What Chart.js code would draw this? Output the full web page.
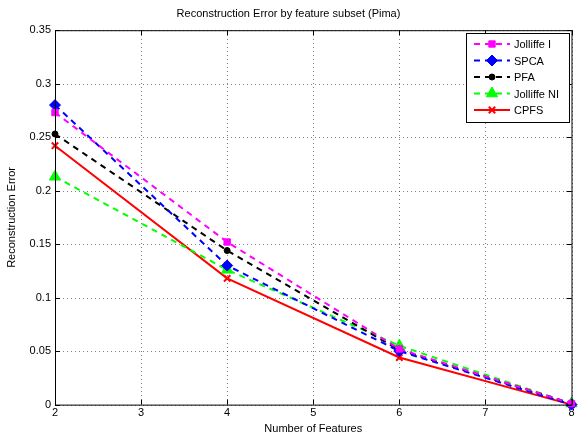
<!DOCTYPE html>
<html>
<head>
<meta charset="utf-8">
<script src="https://cdn.jsdelivr.net/npm/chart.js@4.4.1/dist/chart.umd.min.js"></script>
<style>
  html, body { margin: 0; padding: 0; background: #fff; }
  #wrap { width: 579px; height: 436px; }
</style>
</head>
<body>
<div id="wrap"><canvas id="c" width="579" height="436"></canvas></div>
<script>
// ── Datos ──────────────────────────────────────────────────────────────────
const features    = [2, 4, 6, 8];
const jolliffeI   = [0.273, 0.152, 0.052, 0.001];
const spca        = [0.280, 0.130, 0.050, 0.000];
const pfa         = [0.253, 0.144, 0.051, 0.001];
const jolliffeNI  = [0.213, 0.126, 0.055, 0.001];
const cpfs        = [0.242, 0.118, 0.044, 0.000];
const yTicks      = [0, 0.05, 0.1, 0.15, 0.2, 0.25, 0.3, 0.35];
const xTicks      = [2, 3, 4, 5, 6, 7, 8];

const FONT = 'Liberation Sans, Arial, Helvetica, sans-serif';

function pts(vals) { return features.map((x, i) => ({ x, y: vals[i] })); }

function series(label, vals, color, style, radius, dashed) {
  return {
    label, data: pts(vals),
    borderColor: color, backgroundColor: color,
    pointBackgroundColor: color, pointBorderColor: color,
    borderWidth: 2, borderDash: dashed ? [6, 5] : [],
    pointStyle: style, pointRadius: radius, pointBorderWidth: style === 'crossRot' ? 2 : 1,
    tension: 0, fill: false, clip: false,
  };
}

const datasets = [
  series('Jolliffe I',  jolliffeI,  '#ff00ff', 'rect',     4.5, true),
  series('SPCA',        spca,       '#0000ff', 'rectRot',  5.5, true),
  series('PFA',         pfa,        '#000000', 'circle',   3,   true),
  series('Jolliffe NI', jolliffeNI, '#00ff00', 'triangle', 6.5, true),
  series('CPFS',        cpfs,       '#ff0000', 'crossRot', 4.5, false),
];

// ── Rejilla punteada (debajo de las series) ─────────────────────────────────
// se dibuja como puntos sueltos: más fiable que setLineDash a 1px
const dottedGrid = {
  id: 'dottedGrid',
  beforeDatasetsDraw(chart) {
    const { ctx, chartArea: a, scales } = chart;
    ctx.save();
    ctx.fillStyle = 'rgba(0,0,0,0.5)';
    xTicks.forEach(v => {
      const px = Math.round(scales.x.getPixelForValue(v));
      for (let y = Math.ceil(a.top); y < a.bottom; y += 4) ctx.fillRect(px, y, 1, 1);
    });
    yTicks.forEach(v => {
      const py = Math.round(scales.y.getPixelForValue(v));
      for (let x = Math.ceil(a.left); x < a.right; x += 4) ctx.fillRect(x, py, 1, 1);
    });
    ctx.restore();
  },
};

// ── Caja, ticks internos y leyenda estilo MATLAB ────────────────────────────
const matlabFrame = {
  id: 'matlabFrame',
  afterDraw(chart) {
    const { ctx, chartArea: a, scales } = chart;
    ctx.save();
    ctx.strokeStyle = '#000'; ctx.lineWidth = 1; ctx.setLineDash([]);
    ctx.strokeRect(a.left + 0.5, a.top + 0.5, a.right - a.left, a.bottom - a.top);
    ctx.beginPath();
    xTicks.forEach(v => {
      const px = Math.round(scales.x.getPixelForValue(v)) + 0.5;
      ctx.moveTo(px, a.bottom); ctx.lineTo(px, a.bottom - 5);
      ctx.moveTo(px, a.top);    ctx.lineTo(px, a.top + 5);
    });
    yTicks.forEach(v => {
      const py = Math.round(scales.y.getPixelForValue(v)) + 0.5;
      ctx.moveTo(a.left, py);  ctx.lineTo(a.left + 5, py);
      ctx.moveTo(a.right, py); ctx.lineTo(a.right - 5, py);
    });
    ctx.stroke();

    // leyenda
    const lx = 466, ly = 33, lw = 103, lh = 89, step = 16.5;
    ctx.fillStyle = '#fff';
    ctx.fillRect(lx, ly, lw, lh);
    ctx.strokeRect(lx + 0.5, ly + 0.5, lw, lh);
    ctx.font = '11px ' + FONT;
    ctx.textBaseline = 'middle';
    chart.data.datasets.forEach((ds, i) => {
      const y = ly + 11 + i * step;
      ctx.strokeStyle = ds.borderColor; ctx.lineWidth = 2;
      ctx.setLineDash(ds.borderDash);
      ctx.beginPath(); ctx.moveTo(lx + 8, y); ctx.lineTo(lx + 44, y); ctx.stroke();
      ctx.setLineDash([]);
      ctx.fillStyle = ds.borderColor;
      ctx.lineWidth = ds.pointBorderWidth;
      Chart.helpers.drawPoint(ctx, { pointStyle: ds.pointStyle, radius: ds.pointRadius, rotation: 0, borderWidth: ds.pointBorderWidth }, lx + 26, y);
      ctx.fillStyle = '#000';
      ctx.fillText(ds.label, lx + 48, y + 1);
    });
    ctx.restore();
  },
};

new Chart(document.getElementById('c'), {
  type: 'line',
  data: { datasets },
  plugins: [dottedGrid, matlabFrame],
  options: {
    responsive: false, animation: false,
    layout: { padding: { top: 0, right: 2, left: 0, bottom: 0 } },
    plugins: {
      legend: { display: false },
      tooltip: { enabled: false },
      title: {
        display: true, text: 'Reconstruction Error by feature subset (Pima)',
        color: '#000', font: { family: FONT, size: 11, weight: 'normal' },
        padding: { top: 7, bottom: 10 },
      },
    },
    scales: {
      x: {
        type: 'linear', min: 2, max: 8,
        afterBuildTicks: s => { s.ticks = xTicks.map(v => ({ value: v })); },
        ticks: { color: '#000', font: { family: FONT, size: 11 }, padding: 2, maxRotation: 0 },
        grid: { display: false, drawTicks: false },
        border: { display: false },
        title: { display: true, text: 'Number of Features', color: '#000',
                 font: { family: FONT, size: 11 }, padding: { top: 1, bottom: 0 } },
      },
      y: {
        type: 'linear', min: 0, max: 0.35,
        afterBuildTicks: s => { s.ticks = yTicks.map(v => ({ value: v })); },
        afterFit: s => { s.width = 55; },
        ticks: { color: '#000', font: { family: FONT, size: 11 }, padding: 4,
                 callback: v => String(+v.toFixed(2)) },
        grid: { display: false, drawTicks: false },
        border: { display: false },
        title: { display: true, text: 'Reconstruction Error', color: '#000',
                 font: { family: FONT, size: 11 }, padding: { top: 5, bottom: 6 } },
      },
    },
  },
});
</script>
</body>
</html>
